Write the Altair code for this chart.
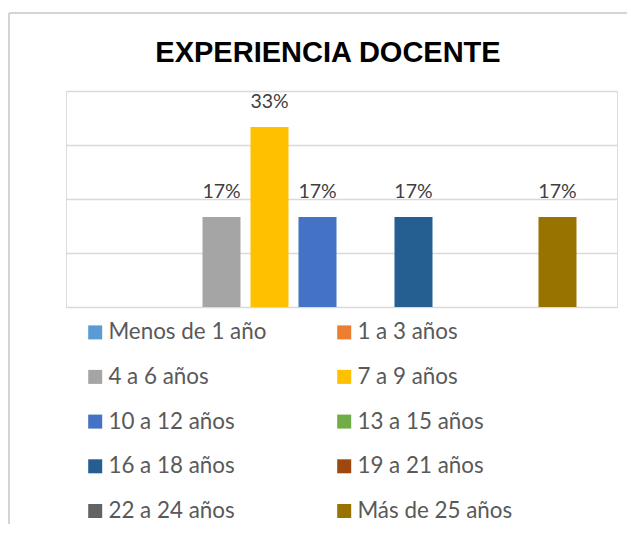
import altair as alt
import pandas as pd

title_text = "EXPERIENCIA DOCENTE"
categories = ["Menos de 1 año", "1 a 3 años", "4 a 6 años", "7 a 9 años",
              "10 a 12 años", "13 a 15 años", "16 a 18 años", "19 a 21 años",
              "22 a 24 años", "Más de 25 años"]
values = [0, 0, 1/6, 2/6, 1/6, 0, 1/6, 0, 0, 1/6]
colors = ["#5B9BD5", "#ED7D31", "#A5A5A5", "#FFC000", "#4472C4",
          "#70AD47", "#255E91", "#9E480E", "#636363", "#997300"]
y_ticks = [0, 0.1, 0.2, 0.3, 0.4]

# legend is filled column by column: put odd-position entries in column 1
legend_order = categories[0::2] + categories[1::2]
legend_colors = colors[0::2] + colors[1::2]

df = pd.DataFrame({"cat": categories, "value": values})

W, H = 551, 216
PAD = {"left": 58, "top": 83, "right": 10, "bottom": 217}
FONT = "Lato"

x = alt.X("cat:N", sort=categories, axis=None,
          scale=alt.Scale(paddingInner=0.2083, paddingOuter=0.8438))
y = alt.Y("value:Q", scale=alt.Scale(domain=[0, 0.4]),
          axis=alt.Axis(values=y_ticks, grid=True, labels=False, ticks=False,
                        domain=False, title=None, gridColor="#d9d9d9",
                        gridWidth=1.5))

bars = alt.Chart(df).mark_bar().encode(
    x=x, y=y,
    color=alt.Color("cat:N", sort=legend_order,
                    scale=alt.Scale(domain=legend_order, range=legend_colors),
                    legend=alt.Legend(
                        title=None, orient="none", legendX=18, legendY=230,
                        columns=2, columnPadding=66, rowPadding=21.7,
                        symbolType="square", symbolSize=196,
                        symbolStrokeWidth=0, labelFont=FONT, labelFontSize=22.4,
                        labelColor="#595959", labelOffset=2, padding=0,
                        labelLimit=300)),
)

labels = alt.Chart(df).transform_filter("datum.value > 0").mark_text(
    font=FONT, fontSize=19.5, color="#404040", baseline="alphabetic", dy=-19
).encode(x=x, y=y, text=alt.Text("value:Q", format=".0%"))

frame_df = pd.DataFrame({"t": [title_text]})
top_line = alt.Chart(frame_df).mark_rule(color="#d4d4d4", strokeWidth=2).encode(
    x=alt.value(-57), x2=alt.value(PAD["right"] + W + 10), y=alt.value(-78))
left_line = alt.Chart(frame_df).mark_rule(color="#d4d4d4", strokeWidth=2).encode(
    x=alt.value(-57), y=alt.value(-78), y2=alt.value(H + PAD["bottom"] + 10))
title = alt.Chart(frame_df).mark_text(
    font="Liberation Sans", fontSize=29, fontWeight="bold", color="#000000",
    align="center", baseline="alphabetic"
).encode(x=alt.value(W / 2 - 13.5), y=alt.value(-29), text="t:N")

chart = alt.layer(top_line, left_line, title, bars, labels).properties(
    width=W, height=H,
    autosize=alt.AutoSizeParams(type="none"),
    padding=PAD,
).configure_view(strokeWidth=0, stroke="transparent").configure(background="white")

chart.save("out.html", embed_options={"renderer": "svg", "actions": False})
